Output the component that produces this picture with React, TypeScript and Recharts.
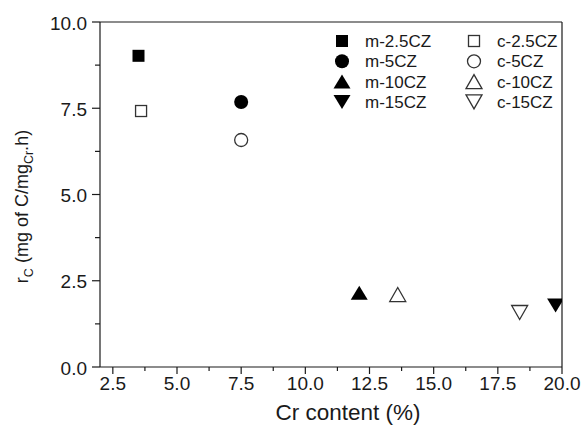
import { ScatterChart, Scatter, XAxis, YAxis, ReferenceLine, Legend } from 'recharts';

// one point per sample
const seriesNames = ['m-2.5CZ', 'm-5CZ', 'm-10CZ', 'm-15CZ', 'c-2.5CZ', 'c-5CZ', 'c-10CZ', 'c-15CZ'];
const crContent = [3.5, 7.5, 12.1, 19.75, 3.6, 7.5, 13.6, 18.35];
const rateC = [9.02, 7.68, 2.15, 1.78, 7.42, 6.58, 2.1, 1.58];

const xMajor = [2.5, 5, 7.5, 10, 12.5, 15, 17.5, 20];
const xMinor = [3.75, 6.25, 8.75, 11.25, 13.75, 16.25, 18.75];
const yMajor = [0, 2.5, 5, 7.5, 10];
const yMinor = [1.25, 3.75, 6.25, 8.75];

const shapes = ['square', 'circle', 'up', 'down', 'square', 'circle', 'up', 'down'];
const INK = '#1a1a1a';
const FONT = '"Liberation Sans", Arial, sans-serif';

function marker(kind: string, filled: boolean, cx: number, cy: number, key?: string) {
  const fill = filled ? '#000' : '#fff';
  const stroke = filled ? 'none' : '#333';
  const sw = 1.3;
  if (kind === 'square') {
    const s = filled ? 12 : 11;
    return <rect key={key} x={cx - s / 2} y={cy - s / 2} width={s} height={s} fill={fill} stroke={stroke} strokeWidth={sw} />;
  }
  if (kind === 'circle') {
    return <circle key={key} cx={cx} cy={cy} r={filled ? 7 : 6.5} fill={fill} stroke={stroke} strokeWidth={sw} />;
  }
  const w = filled ? 17 : 16;
  const h = 14;
  const pts = kind === 'up'
    ? `${cx - w / 2},${cy + h / 2} ${cx + w / 2},${cy + h / 2} ${cx},${cy - h / 2}`
    : `${cx - w / 2},${cy - h / 2} ${cx + w / 2},${cy - h / 2} ${cx},${cy + h / 2}`;
  return <polygon key={key} points={pts} fill={fill} stroke={stroke} strokeWidth={sw} strokeLinejoin="miter" />;
}

function XTick(props: any) {
  const { x, y, payload } = props;
  const major = xMajor.includes(payload.value);
  return (
    <g>
      <line x1={x} x2={x} y1={y} y2={y + (major ? 7 : 4)} stroke={INK} strokeWidth={1.2} />
      {major && (
        <text x={x} y={y + 23} textAnchor="middle" fontSize={19} fontFamily={FONT} fill={INK}>
          {payload.value.toFixed(1)}
        </text>
      )}
    </g>
  );
}

function YTick(props: any) {
  const { x, y, payload } = props;
  const major = yMajor.includes(payload.value);
  return (
    <g>
      <line x1={x} x2={x - (major ? 8 : 5)} y1={y} y2={y} stroke={INK} strokeWidth={1.2} />
      {major && (
        <text x={x - 13} y={y + 7.5} textAnchor="end" fontSize={19} fontFamily={FONT} fill={INK}>
          {payload.value.toFixed(1)}
        </text>
      )}
    </g>
  );
}

function XTitle(props: any) {
  const vb = props.viewBox || { x: 100, y: 367, width: 462 };
  return (
    <text x={vb.x + vb.width / 2 + 17} y={vb.y + 53} textAnchor="middle" fontSize={22.5} fontFamily={FONT} fill={INK}>
      Cr content (%)
    </text>
  );
}

function YTitle(props: any) {
  const vb = props.viewBox || { x: 0, y: 22, height: 345 };
  const cx = 28;
  const cy = vb.y + vb.height / 2 + 12;
  return (
    <text x={cx} y={cy} transform={`rotate(-90 ${cx} ${cy})`} textAnchor="middle" fontSize={18} fontFamily={FONT} fill={INK}>
      r<tspan fontSize={12.5} dy={5}>C</tspan>
      <tspan dy={-5}> (mg of C/mg</tspan>
      <tspan fontSize={12.5} dy={5}>Cr</tspan>
      <tspan dy={-5}>.h)</tspan>
    </text>
  );
}

function LegendBox() {
  const rows = 4;
  return (
    <svg width={250} height={90}>
      {seriesNames.map((name, i) => {
        const col = Math.floor(i / rows);
        const row = i % rows;
        const mx = 12 + col * 132;
        const my = 13 + row * 20.3;
        return (
          <g key={name}>
            {marker(shapes[i], col === 0, mx, my)}
            <text x={mx + 23} y={my + 6} fontSize={17} fontFamily={FONT} fill={INK}>{name}</text>
          </g>
        );
      })}
    </svg>
  );
}

export default function App() {
  return (
    <div style={{ position: 'absolute', left: 0, top: 0, background: '#fff' }}>
      <ScatterChart width={587} height={427} margin={{ top: 22, right: 25, bottom: 0, left: 0 }}>
        <XAxis
          type="number"
          dataKey="x"
          domain={[2, 20]}
          ticks={[...xMajor, ...xMinor].sort((a, b) => a - b)}
          interval={0}
          allowDataOverflow
          height={60}
          tickSize={0}
          tickMargin={0}
          tickLine={false}
          tick={<XTick />}
          axisLine={{ stroke: INK, strokeWidth: 1.2 }}
          label={<XTitle />}
        />
        <YAxis
          type="number"
          dataKey="y"
          domain={[0, 10]}
          ticks={[...yMajor, ...yMinor].sort((a, b) => a - b)}
          interval={0}
          allowDataOverflow
          width={100}
          tickSize={0}
          tickMargin={0}
          tickLine={false}
          tick={<YTick />}
          axisLine={{ stroke: INK, strokeWidth: 1.2 }}
          label={<YTitle />}
        />
        <ReferenceLine y={10} stroke={INK} strokeWidth={1.2} />
        <ReferenceLine x={20} stroke={INK} strokeWidth={1.2} />
        {seriesNames.map((name, i) => (
          <Scatter
            key={name}
            name={name}
            data={[{ x: crContent[i], y: rateC[i] }]}
            isAnimationActive={false}
            shape={(p: any) => marker(shapes[i], i < 4, p.cx, p.cy)}
          />
        ))}
        <Legend
          layout="horizontal"
          verticalAlign="middle"
          align="center"
          content={() => <LegendBox />}
          wrapperStyle={{ left: 330, top: 28, width: 250, height: 90 }}
        />
      </ScatterChart>
    </div>
  );
}
